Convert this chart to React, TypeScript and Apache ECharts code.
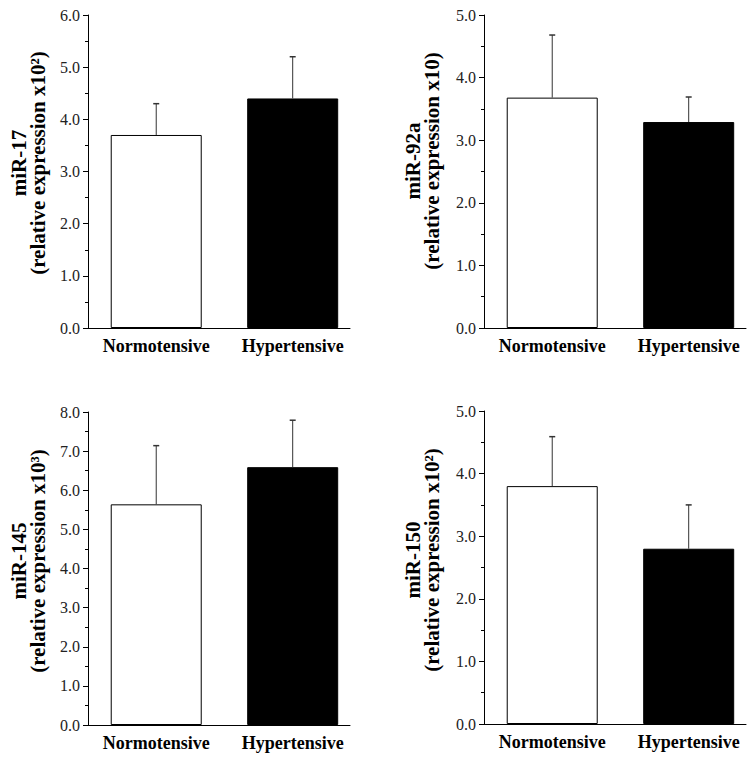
import React, { useEffect, useRef } from "react";
import * as echarts from "echarts";

const categories = ["Normotensive", "Hypertensive"];

const mir17Mean = [3.7, 4.4];
const mir17Err = [0.6, 0.8];
const mir92aMean = [3.68, 3.29];
const mir92aErr = [1.0, 0.4];
const mir145Mean = [5.64, 6.59];
const mir145Err = [1.5, 1.2];
const mir150Mean = [3.8, 2.8];
const mir150Err = [0.79, 0.7];

const yMaxes = [6, 5, 8, 5];
const titles = [
  "miR-17\n(relative expression x10²)",
  "miR-92a\n(relative expression x10)",
  "miR-145\n(relative expression x10³)",
  "miR-150\n(relative expression x10²)",
];

const FONT = '"Liberation Serif", "Times New Roman", serif';

export default function App() {
  const ref = useRef<HTMLDivElement>(null);
  useEffect(() => {
    if (!ref.current) return;
    const chart = echarts.init(ref.current, undefined, { renderer: "svg" });
    const means = [mir17Mean, mir92aMean, mir145Mean, mir150Mean];
    const errs = [mir17Err, mir92aErr, mir145Err, mir150Err];
    const grids = [
      { left: 88, top: 15, width: 262, height: 313 },
      { left: 484, top: 15, width: 262, height: 313 },
      { left: 88, top: 412, width: 262, height: 313 },
      { left: 484, top: 411, width: 262, height: 313 },
    ];
    const titlePos = [
      [28, 163],
      [422, 161],
      [28, 561],
      [422, 560],
    ];
    const xAxis: any[] = [];
    const yAxis: any[] = [];
    const series: any[] = [];
    grids.forEach((g, i) => {
      xAxis.push({
        type: "value",
        gridIndex: i,
        min: -0.5,
        max: 1.42,
        splitLine: { show: false },
        axisTick: { show: false },
        axisLine: { show: true, onZero: false, lineStyle: { color: "#000", width: 1 } },
        axisLabel: {
          customValues: [0, 1],
          formatter: (v: number) => categories[Math.round(v)] ?? "",
          fontFamily: FONT,
          fontWeight: "bold",
          fontSize: 18,
          color: "#000",
          margin: 9,
        },
      });
      yAxis.push({
        type: "value",
        gridIndex: i,
        min: 0,
        max: yMaxes[i],
        interval: 1,
        splitLine: { show: false },
        axisLine: { show: true, onZero: false, lineStyle: { color: "#000", width: 1 } },
        axisTick: { show: true, length: 5, lineStyle: { color: "#000" } },
        minorTick: { show: true, splitNumber: 2, length: 3, lineStyle: { color: "#000" } },
        axisLabel: {
          formatter: (v: number) => v.toFixed(1),
          fontFamily: FONT,
          fontSize: 16,
          color: "#222",
          margin: 8,
        },
      });
      series.push({
        type: "bar",
        xAxisIndex: i,
        yAxisIndex: i,
        barWidth: 91,
        data: categories.map((c, k) => ({
          value: [k, means[i][k]],
          itemStyle:
            k === 0
              ? { color: "#fff", borderColor: "#000", borderWidth: 1 }
              : { color: "#000", borderColor: "#000", borderWidth: 1 },
        })),
      });
      series.push({
        type: "custom",
        xAxisIndex: i,
        yAxisIndex: i,
        z: 5,
        data: categories.map((c, k) => [k, means[i][k], errs[i][k]]),
        encode: { x: 0, y: 1 },
        renderItem: (params: any, api: any) => {
          const x = api.value(0);
          const m = api.value(1);
          const e = api.value(2);
          const p0 = api.coord([x, m]);
          const p1 = api.coord([x, m + e]);
          return {
            type: "group",
            children: [
              {
                type: "line",
                shape: { x1: p0[0], y1: p0[1], x2: p1[0], y2: p1[1] },
                style: { stroke: "#333", lineWidth: 1 },
              },
              {
                type: "line",
                shape: { x1: p1[0] - 3, y1: p1[1], x2: p1[0] + 3, y2: p1[1] },
                style: { stroke: "#333", lineWidth: 1.5 },
              },
            ],
          };
        },
      });
    });
    const graphic = titles.map((t, i) => ({
      type: "text",
      x: titlePos[i][0],
      y: titlePos[i][1],
      rotation: Math.PI / 2,
      style: {
        text: t,
        fontFamily: FONT,
        fontWeight: "bold",
        fontSize: 21,
        lineHeight: 19,
        align: "center",
        verticalAlign: "middle",
        fill: "#000",
      },
    }));
    chart.setOption({
      animation: false,
      backgroundColor: "#fff",
      grid: grids,
      xAxis,
      yAxis,
      series,
      graphic,
    });
    return () => chart.dispose();
  }, []);
  return (
    <div
      ref={ref}
      style={{ position: "absolute", left: 0, top: 0, width: 754, height: 761 }}
    />
  );
}
